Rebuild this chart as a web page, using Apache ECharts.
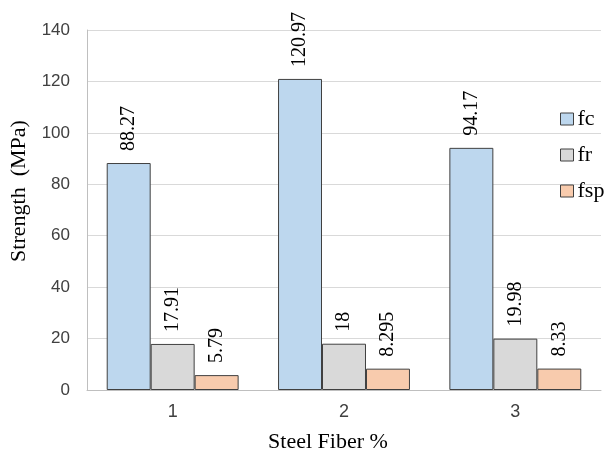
<!DOCTYPE html>
<html>
<head>
<meta charset="utf-8">
<script src="https://cdn.jsdelivr.net/npm/echarts@6/dist/echarts.min.js"></script>
<style>
  html, body { margin: 0; padding: 0; background: #fff; }
  #chart { width: 605px; height: 458px; }
</style>
</head>
<body>
<div id="chart"></div>
<script>
// Steel fiber content and measured strengths
const categories = ['1', '2', '3'];
const fcValues = [88.27, 120.97, 94.17];
const frValues = [17.91, 18, 19.98];
const fspValues = [5.79, 8.295, 8.33];
const seriesNames = ['fc', 'fr', 'fsp'];
const seriesColors = ['#BDD7EE', '#D9D9D9', '#F8CBAD'];

const serif = '"Liberation Serif", "Times New Roman", serif';
const sans = '"Liberation Sans", Arial, sans-serif';

function makeSeries(name, data, color) {
  return {
    name: name,
    type: 'bar',
    data: data,
    barGap: '0%',
    barCategoryGap: '23%',
    itemStyle: { color: color, borderColor: '#404040', borderWidth: 1 },
    label: {
      show: true,
      position: 'top',
      rotate: 90,
      align: 'left',
      verticalAlign: 'middle',
      distance: 12,
      color: '#000',
      fontFamily: serif,
      fontSize: 20,
      formatter: p => String(p.value)
    },
    emphasis: { disabled: true }
  };
}

const chart = echarts.init(document.getElementById('chart'), null, { renderer: 'canvas' });
chart.setOption({
  animation: false,
  backgroundColor: '#fff',
  grid: { left: 85, right: 4, top: 30, bottom: 65, containLabel: false },
  legend: {
    orient: 'vertical',
    left: 555,
    top: 103,
    itemWidth: 13,
    itemHeight: 12,
    itemGap: 14,
    icon: 'rect',
    textStyle: { fontFamily: serif, fontSize: 22, color: '#000', padding: [0, 0, 0, -1] },
    data: seriesNames.map((n, i) => ({
      name: n,
      itemStyle: { color: seriesColors[i], borderColor: '#404040', borderWidth: 1 }
    }))
  },
  xAxis: {
    type: 'category',
    data: categories,
    name: 'Steel Fiber %',
    nameLocation: 'middle',
    nameGap: 41,
    nameTextStyle: { fontFamily: serif, fontSize: 22, color: '#000', padding: [0, 32, 0, 0] },
    axisLine: { lineStyle: { color: '#BFBFBF', width: 1 } },
    axisTick: { show: false },
    axisLabel: { fontFamily: sans, fontSize: 18, color: '#404040', margin: 13 }
  },
  yAxis: {
    type: 'value',
    min: 0,
    max: 140,
    interval: 20,
    name: 'Strength  (MPa)',
    nameLocation: 'middle',
    nameGap: 57,
    nameTextStyle: { fontFamily: serif, fontSize: 22, color: '#000', padding: [0, 0, 0, 38] },
    axisLine: { show: true, lineStyle: { color: '#BFBFBF', width: 1 } },
    axisTick: { show: false },
    splitLine: { lineStyle: { color: '#D9D9D9', width: 1 } },
    axisLabel: { fontFamily: sans, fontSize: 17, color: '#404040', margin: 17 }
  },
  series: [
    makeSeries(seriesNames[0], fcValues, seriesColors[0]),
    makeSeries(seriesNames[1], frValues, seriesColors[1]),
    makeSeries(seriesNames[2], fspValues, seriesColors[2])
  ]
});
</script>
</body>
</html>
